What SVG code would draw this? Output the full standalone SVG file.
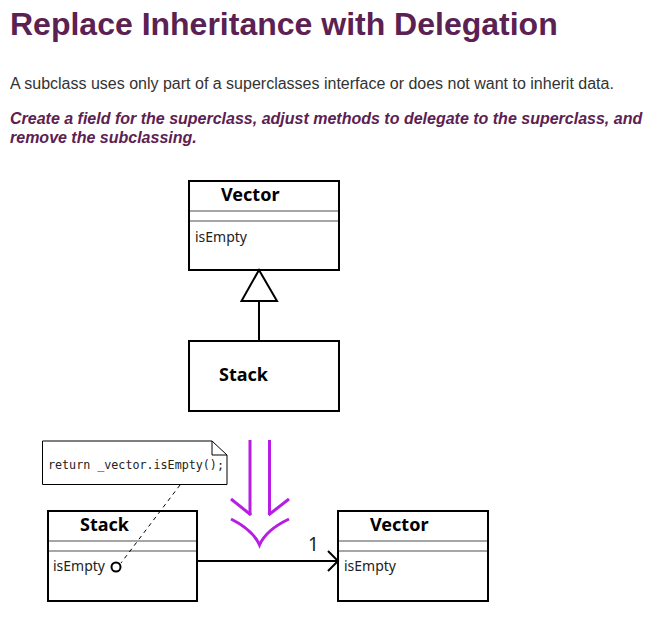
<svg xmlns="http://www.w3.org/2000/svg" width="663" height="620" viewBox="0 0 663 620">
<defs>
<style>
.title{font-family:"Liberation Sans",Arial,sans-serif;font-weight:bold;font-size:32px;fill:#5b2152}
.para{font-family:"Liberation Sans",Arial,sans-serif;font-size:16px;fill:#333}
.emph{font-family:"Liberation Sans",Arial,sans-serif;font-size:16px;font-weight:bold;font-style:italic;fill:#5b2152}
.box{fill:#fff;stroke:#000;stroke-width:2}
.sep{stroke:#888;stroke-width:1.5}
.cname{font-family:"Noto Sans","Open Sans",sans-serif;font-weight:bold;font-size:18px;fill:#000}
.member{font-family:"Noto Sans","Open Sans",sans-serif;font-size:14px;fill:#222}
.code{font-family:"DejaVu Sans Mono","Liberation Mono",monospace;font-size:11.7px;fill:#222}
.line{stroke:#000;stroke-width:2;fill:none}
.purple{stroke:#b71de3;stroke-width:3;fill:none}
</style>
</defs>
<rect width="663" height="620" fill="#fff"/>
<text class="title" x="10" y="35">Replace Inheritance with Delegation</text>
<text class="para" x="10" y="89">A subclass uses only part of a superclasses interface or does not want to inherit data.</text>
<text class="emph" x="10" y="124">Create a field for the superclass, adjust methods to delegate to the superclass, and</text>
<text class="emph" x="10" y="143">remove the subclassing.</text>

<g id="vector-top">
<rect class="box" x="189" y="181" width="150" height="89"/>
<line class="sep" x1="190" y1="211" x2="338" y2="211"/>
<line class="sep" x1="190" y1="221" x2="338" y2="221"/>
<text class="cname" x="221" y="201">Vector</text>
<text class="member" x="195" y="242">isEmpty</text>
</g>

<g id="stack-top">
<rect class="box" x="189" y="341" width="150" height="70"/>
<text class="cname" x="219" y="381">Stack</text>
</g>

<g id="transform-arrow">
<line class="purple" x1="250" y1="440" x2="250" y2="515"/>
<line class="purple" x1="269.5" y1="440" x2="269.5" y2="515"/>
<line class="purple" x1="231" y1="499" x2="251" y2="515"/>
<line class="purple" x1="289" y1="499" x2="268.5" y2="515"/>
<path class="purple" d="M231,519 Q253,530 259.5,545 Q266,530 289,519"/>
</g>

<g id="note">
<path d="M42.5,441 L212,441 L227,455 L227,484.5 L42.5,484.5 Z" fill="#fff" stroke="#000" stroke-width="1"/>
<path d="M212,441 L212,455 L227,455" fill="none" stroke="#000" stroke-width="1"/>
<text class="code" x="48" y="469">return _vector.isEmpty();</text>
</g>

<g id="stack-bottom">
<rect class="box" x="48" y="511" width="149" height="90"/>
<line class="sep" x1="49" y1="541" x2="196" y2="541"/>
<line class="sep" x1="49" y1="551" x2="196" y2="551"/>
<text class="cname" x="80" y="531">Stack</text>
<text class="member" x="53" y="571">isEmpty</text>
<circle cx="116" cy="567" r="4.5" fill="none" stroke="#000" stroke-width="2"/>
</g>

<g id="vector-bottom">
<rect class="box" x="338" y="511" width="150" height="90"/>
<line class="sep" x1="339" y1="541" x2="487" y2="541"/>
<line class="sep" x1="339" y1="551" x2="487" y2="551"/>
<text class="cname" x="370" y="531">Vector</text>
<text class="member" x="344" y="571">isEmpty</text>
</g>

<g id="connectors">
<line class="line" x1="259" y1="301" x2="259" y2="341"/>
<polygon points="259,270 241.5,301 277,301" fill="#fff" stroke="#000" stroke-width="2"/>
<line class="line" x1="197" y1="561" x2="337" y2="561"/>
<polyline class="line" points="328,551 338,561 328,571"/>
<line x1="180" y1="485" x2="121" y2="563" stroke="#000" stroke-width="1" stroke-dasharray="4,4"/>
<text class="member" x="308" y="551" style="font-size:19px">1</text>
</g>
</svg>
